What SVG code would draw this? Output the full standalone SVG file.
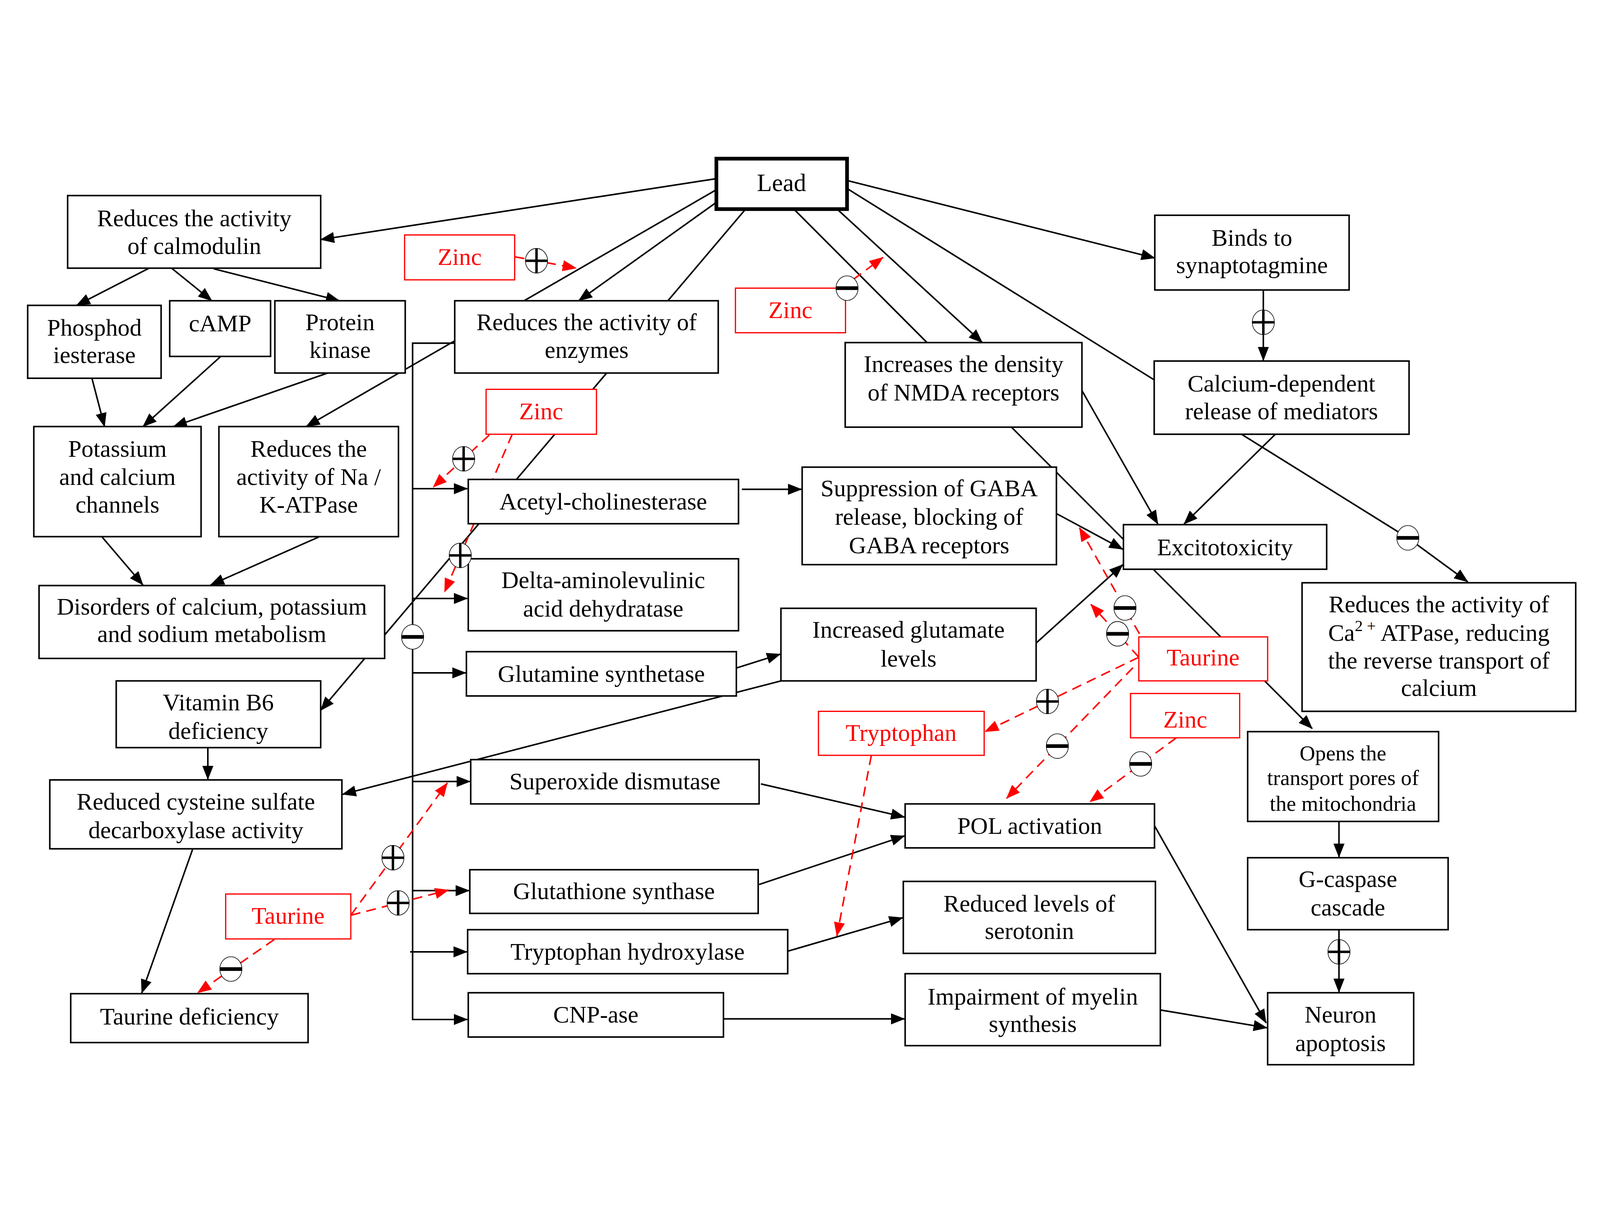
<svg xmlns="http://www.w3.org/2000/svg" width="5204" height="3112" viewBox="0 0 5204 3112" style="max-width:100vw;max-height:100vh">
<style>
.n{fill:#fff;stroke:#000;stroke-width:5}
.r{fill:#fff;stroke:#ff0000;stroke-width:4}
.t{font-family:"Liberation Serif","Times New Roman",serif;font-size:78px;fill:#000;text-anchor:middle}
.rt{fill:#ff0000}
.s{font-size:70px}
.c{fill:none;stroke:#000;stroke-width:5;marker-end:url(#ab)}
.l{fill:none;stroke:#000;stroke-width:5}
.d{fill:none;stroke:#ff0000;stroke-width:5;stroke-dasharray:32 20;marker-end:url(#ar)}
</style>
<defs>
<marker id="ab" markerUnits="userSpaceOnUse" markerWidth="46" markerHeight="36" refX="44" refY="18" orient="auto"><path d="M0,0 L46,18 L0,36 z" fill="#000"/></marker>
<marker id="ar" markerUnits="userSpaceOnUse" markerWidth="46" markerHeight="36" refX="44" refY="18" orient="auto"><path d="M0,0 L46,18 L0,36 z" fill="#ff0000"/></marker>
<g id="pl"><ellipse rx="36" ry="40" fill="#fff" stroke="#000" stroke-width="2"/><rect x="-36" y="-4" width="72" height="8" fill="#000"/><rect x="-4" y="-40" width="8" height="80" fill="#000"/></g>
<g id="mi"><ellipse rx="36" ry="40" fill="#fff" stroke="#000" stroke-width="2"/><rect x="-36" y="-6" width="72" height="12" fill="#000"/></g>
</defs>
<rect width="5204" height="3112" fill="#fff"/>
<g id="connectors">
<line class="c" x1="2330" y1="160" x2="1043" y2="358"/>
<line class="c" x1="2330" y1="196" x2="996" y2="966"/>
<line class="c" x1="2330" y1="237" x2="1882" y2="557"/>
<line class="c" x1="2425" y1="259" x2="1043" y2="1889"/>
<line class="c" x1="2582" y1="259" x2="4268" y2="1948"/>
<line class="c" x1="2726" y1="262" x2="3195" y2="693"/>
<polyline class="c" points="2755,192 4579,1328 4774,1471"/>
<line class="c" x1="2755" y1="166" x2="3756" y2="418"/>
<line class="c" x1="485" y1="451" x2="249" y2="572"/>
<line class="c" x1="558" y1="451" x2="689" y2="557"/>
<line class="c" x1="695" y1="453" x2="1104" y2="557"/>
<line class="c" x1="299" y1="809" x2="340" y2="966"/>
<line class="c" x1="718" y1="738" x2="465" y2="966"/>
<line class="c" x1="1066" y1="792" x2="564" y2="966"/>
<line class="c" x1="332" y1="1325" x2="465" y2="1481"/>
<line class="c" x1="1037" y1="1325" x2="685" y2="1481"/>
<line class="c" x1="676" y1="2010" x2="676" y2="2113"/>
<line class="c" x1="627" y1="2339" x2="461" y2="2808"/>
<line class="c" x1="2540" y1="1793" x2="1114" y2="2162"/>
<line class="c" x1="2396" y1="1751" x2="2538" y2="1706"/>
<line class="c" x1="3370" y1="1670" x2="3652" y2="1415"/>
<line class="c" x1="2413" y1="1170" x2="2607" y2="1170"/>
<line class="c" x1="3436" y1="1249" x2="3652" y2="1365"/>
<line class="c" x1="3519" y1="849" x2="3766" y2="1283"/>
<line class="c" x1="4148" y1="991" x2="3851" y2="1283"/>
<line class="c" x1="4109" y1="522" x2="4109" y2="751"/>
<line class="c" x1="4355" y1="2250" x2="4355" y2="2366"/>
<line class="c" x1="4355" y1="2602" x2="4355" y2="2805"/>
<line class="c" x1="2475" y1="2128" x2="2942" y2="2236"/>
<line class="c" x1="2469" y1="2455" x2="2942" y2="2297"/>
<line class="c" x1="2562" y1="2672" x2="2936" y2="2563"/>
<line class="c" x1="2353" y1="2892" x2="2942" y2="2892"/>
<line class="c" x1="3774" y1="2863" x2="4121" y2="2921"/>
<line class="c" x1="3755" y1="2264" x2="4118" y2="2905"/>
<polyline class="c" points="1479,695 1342,695 1342,2894 1520,2894"/>
<line class="c" x1="1342" y1="1168" x2="1520" y2="1168"/>
<line class="c" x1="1342" y1="1525" x2="1520" y2="1525"/>
<line class="c" x1="1342" y1="1767" x2="1515" y2="1767"/>
<line class="c" x1="1342" y1="2120" x2="1529" y2="2120"/>
<line class="c" x1="1342" y1="2475" x2="1526" y2="2475"/>
<line class="c" x1="1334" y1="2674" x2="1519" y2="2674"/>
<line class="d" x1="1674" y1="414" x2="1874" y2="451"/>
<line class="d" x1="2775" y1="488" x2="2872" y2="416"/>
<line class="d" x1="1591" y1="994" x2="1409" y2="1163"/>
<line class="d" x1="1666" y1="991" x2="1446" y2="1504"/>
<line class="d" x1="892" y1="2634" x2="643" y2="2807"/>
<line class="d" x1="1141" y1="2555" x2="1455" y2="2125"/>
<line class="d" x1="1141" y1="2555" x2="1459" y2="2473"/>
<line class="d" x1="3706" y1="1640" x2="3511" y2="1295"/>
<line class="d" x1="3704" y1="1716" x2="3548" y2="1544"/>
<line class="d" x1="3704" y1="1716" x2="3204" y2="1958"/>
<line class="d" x1="3685" y1="1750" x2="3274" y2="2175"/>
<line class="d" x1="3826" y1="1978" x2="3545" y2="2186"/>
<line class="d" x1="2834" y1="2035" x2="2722" y2="2622"/>
</g>
<g id="n-calmodulin"><rect class="n" x="220" y="215" width="823" height="236"/><text class="t" x="632" y="315">Reduces the activity</text><text class="t" x="632" y="405">of calmodulin</text></g>
<g id="n-phosphod"><rect class="n" x="90" y="572" width="434" height="237"/><text class="t" x="307" y="670">Phosphod</text><text class="t" x="307" y="759">iesterase</text></g>
<g id="n-camp"><rect class="n" x="552" y="557" width="328" height="181"/><text class="t" x="716" y="656">cAMP</text></g>
<g id="n-pkinase"><rect class="n" x="894" y="557" width="424" height="235"/><text class="t" x="1106" y="653">Protein</text><text class="t" x="1106" y="743">kinase</text></g>
<g id="n-potassium"><rect class="n" x="110" y="966" width="544" height="358"/><text class="t" x="382" y="1064">Potassium</text><text class="t" x="382" y="1156">and calcium</text><text class="t" x="382" y="1246">channels</text></g>
<g id="n-nak"><rect class="n" x="712" y="966" width="584" height="358"/><text class="t" x="1004" y="1064">Reduces the</text><text class="t" x="1004" y="1156">activity of Na /</text><text class="t" x="1004" y="1246">K-ATPase</text></g>
<g id="n-disorders"><rect class="n" x="127" y="1483" width="1124" height="237"/><text class="t" x="689" y="1577">Disorders of calcium, potassium</text><text class="t" x="689" y="1667">and sodium metabolism</text></g>
<g id="n-vitb6"><rect class="n" x="378" y="1793" width="665" height="217"/><text class="t" x="710" y="1889">Vitamin B6</text><text class="t" x="710" y="1982">deficiency</text></g>
<g id="n-cysteine"><rect class="n" x="162" y="2115" width="950" height="224"/><text class="t" x="637" y="2211">Reduced cysteine sulfate</text><text class="t" x="637" y="2304">decarboxylase activity</text></g>
<g id="n-taurdef"><rect class="n" x="230" y="2810" width="772" height="159"/><text class="t" x="616" y="2911">Taurine deficiency</text></g>
<g id="n-lead"><rect x="2330" y="95" width="425" height="164" fill="#fff" stroke="#000" stroke-width="12"/><text class="t" x="2542" y="201" style="font-size:80px">Lead</text></g>
<g id="n-enzymes"><rect class="n" x="1479" y="557" width="857" height="235"/><text class="t" x="1908" y="653">Reduces the activity of</text><text class="t" x="1908" y="743">enzymes</text></g>
<g id="n-acetyl"><rect class="n" x="1523" y="1138" width="879" height="144"/><text class="t" x="1962" y="1236">Acetyl-cholinesterase</text></g>
<g id="n-delta"><rect class="n" x="1523" y="1396" width="879" height="234"/><text class="t" x="1962" y="1491">Delta-aminolevulinic</text><text class="t" x="1962" y="1584">acid dehydratase</text></g>
<g id="n-glutamine"><rect class="n" x="1517" y="1698" width="878" height="144"/><text class="t" x="1956" y="1796">Glutamine synthetase</text></g>
<g id="n-sod"><rect class="n" x="1531" y="2049" width="938" height="144"/><text class="t" x="2000" y="2145">Superoxide dismutase</text></g>
<g id="n-glutathione"><rect class="n" x="1528" y="2407" width="938" height="142"/><text class="t" x="1997" y="2503">Glutathione synthase</text></g>
<g id="n-trphydrox"><rect class="n" x="1521" y="2602" width="1041" height="143"/><text class="t" x="2041" y="2699">Tryptophan hydroxylase</text></g>
<g id="n-cnp"><rect class="n" x="1523" y="2807" width="830" height="144"/><text class="t" x="1938" y="2904">CNP-ase</text></g>
<g id="n-nmda"><rect class="n" x="2749" y="693" width="770" height="275"/><text class="t" x="3134" y="789">Increases the density</text><text class="t" x="3134" y="882">of NMDA receptors</text></g>
<g id="n-gaba"><rect class="n" x="2609" y="1098" width="827" height="317"/><text class="t" x="3022" y="1193">Suppression of GABA</text><text class="t" x="3022" y="1285">release, blocking of</text><text class="t" x="3022" y="1378">GABA receptors</text></g>
<g id="n-glutamate"><rect class="n" x="2540" y="1557" width="830" height="236"/><text class="t" x="2955" y="1653">Increased glutamate</text><text class="t" x="2955" y="1746">levels</text></g>
<g id="n-binds"><rect class="n" x="3756" y="279" width="632" height="243"/><text class="t" x="4072" y="378">Binds to</text><text class="t" x="4072" y="467">synaptotagmine</text></g>
<g id="n-calcium"><rect class="n" x="3754" y="753" width="829" height="238"/><text class="t" x="4168" y="852">Calcium-dependent</text><text class="t" x="4168" y="942">release of mediators</text></g>
<g id="n-excito"><rect class="n" x="3654" y="1285" width="661" height="145"/><text class="t" x="3984" y="1385">Excitotoxicity</text></g>
<g id="n-caatpase"><rect class="n" x="4235" y="1474" width="890" height="418"/><text class="t" x="4680" y="1570">Reduces the activity of</text><text class="t" x="4680" y="1663">Ca<tspan dy="-32" style="font-size:52px">2 +</tspan><tspan dy="32"> ATPase, reducing</tspan></text><text class="t" x="4680" y="1753">the reverse transport of</text><text class="t" x="4680" y="1842">calcium</text></g>
<g id="n-opens"><rect class="n" x="4058" y="1958" width="621" height="292"/><text class="t s" x="4368" y="2051">Opens the</text><text class="t s" x="4368" y="2132">transport pores of</text><text class="t s" x="4368" y="2215">the mitochondria</text></g>
<g id="n-gcaspase"><rect class="n" x="4058" y="2368" width="652" height="234"/><text class="t" x="4384" y="2463">G-caspase</text><text class="t" x="4384" y="2556">cascade</text></g>
<g id="n-neuron"><rect class="n" x="4123" y="2807" width="475" height="234"/><text class="t" x="4360" y="2904">Neuron</text><text class="t" x="4360" y="2997">apoptosis</text></g>
<g id="n-pol"><rect class="n" x="2944" y="2193" width="811" height="143"/><text class="t" x="3349" y="2291">POL activation</text></g>
<g id="n-serotonin"><rect class="n" x="2938" y="2445" width="820" height="234"/><text class="t" x="3348" y="2543">Reduced levels of</text><text class="t" x="3348" y="2632">serotonin</text></g>
<g id="n-myelin"><rect class="n" x="2944" y="2745" width="830" height="234"/><text class="t" x="3359" y="2845">Impairment of myelin</text><text class="t" x="3359" y="2934">synthesis</text></g>
<g id="n-zinc1"><rect class="r" x="1316" y="343" width="358" height="146"/><text class="t rt" x="1495" y="441">Zinc</text></g>
<g id="n-zinc2"><rect class="r" x="2392" y="516" width="358" height="145"/><text class="t rt" x="2571" y="613">Zinc</text></g>
<g id="n-zinc3"><rect class="r" x="1581" y="845" width="359" height="146"/><text class="t rt" x="1760" y="942">Zinc</text></g>
<g id="n-taurine1"><rect class="r" x="734" y="2486" width="407" height="146"/><text class="t rt" x="937" y="2583">Taurine</text></g>
<g id="n-taurine2"><rect class="r" x="3704" y="1650" width="419" height="143"/><text class="t rt" x="3913" y="1743">Taurine</text></g>
<g id="n-tryptophan"><rect class="r" x="2662" y="1892" width="539" height="143"/><text class="t rt" x="2931" y="1988">Tryptophan</text></g>
<g id="n-zinc4"><rect class="r" x="3677" y="1834" width="355" height="144"/><text class="t rt" x="3855" y="1945">Zinc</text></g>
<g id="signs">
<use href="#pl" x="1745" y="427"/>
<use href="#mi" x="2755" y="516"/>
<use href="#pl" x="4109" y="627"/>
<use href="#mi" x="4579" y="1328"/>
<use href="#pl" x="4355" y="2674"/>
<use href="#mi" x="1342" y="1650"/>
<use href="#pl" x="1508" y="1071"/>
<use href="#pl" x="1497" y="1385"/>
<use href="#mi" x="751" y="2730"/>
<use href="#pl" x="1278" y="2368"/>
<use href="#pl" x="1295" y="2515"/>
<use href="#mi" x="3659" y="1556"/>
<use href="#mi" x="3635" y="1640"/>
<use href="#pl" x="3407" y="1860"/>
<use href="#mi" x="3439" y="2005"/>
<use href="#mi" x="3710" y="2063"/>
</g>
</svg>
